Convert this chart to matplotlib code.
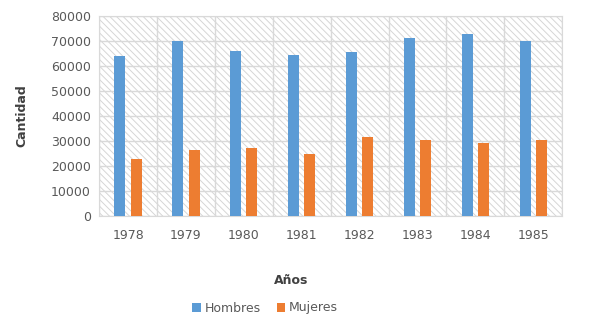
import matplotlib
matplotlib.use("Agg")
import matplotlib.pyplot as plt
import numpy as np
from matplotlib.patches import Rectangle

years = ["1978", "1979", "1980", "1981", "1982", "1983", "1984", "1985"]
hombres = [64000, 69800, 66100, 64500, 65500, 71200, 72600, 69800]
mujeres = [22800, 26400, 27300, 24900, 31500, 30400, 29200, 30400]
yticks = [0, 10000, 20000, 30000, 40000, 50000, 60000, 70000, 80000]

plt.rcParams['font.family'] = ['DejaVu Sans']
plt.rcParams['hatch.linewidth'] = 0.7

fig = plt.figure(figsize=(5.9, 3.25), dpi=100)
ax = fig.add_axes([0.168, 0.335, 0.785, 0.616])

x = np.arange(len(years))
w = 0.19
off = 0.14
blue = '#5b9bd5'
orange = '#ed7d31'

ax.set_xlim(-0.5, len(years) - 0.5)
ax.set_ylim(0, 80000)

# hatched background
ax.add_patch(Rectangle((0, 0), 1, 1, transform=ax.transAxes, facecolor='white',
                       edgecolor='#d6d6d6', linewidth=0, hatch='\\' * 5, zorder=0))

# gridlines
for yv in yticks:
    ax.axhline(yv, color='#d9d9d9', lw=1.0, zorder=1)
for xb in np.arange(-0.5, len(years) + 0.5, 1):
    ax.axvline(xb, color='#d9d9d9', lw=1.0, zorder=1)

ax.bar(x - off, hombres, width=w, color=blue, label='Hombres', zorder=3)
ax.bar(x + off, mujeres, width=w, color=orange, label='Mujeres', zorder=3)

ax.set_xticks(x)
ax.set_xticklabels(years)
ax.set_yticks(yticks)
ax.set_yticklabels([str(v) for v in yticks])
ax.tick_params(axis='both', length=0, colors='#595959', labelsize=9)
ax.tick_params(axis='x', pad=9)
ax.tick_params(axis='y', pad=6)
for s in ax.spines.values():
    s.set_color('#d9d9d9')

fig.text(22 / 590, 1 - 116 / 325, 'Cantidad', rotation=90, ha='center', va='center',
         fontsize=9, fontweight='bold', color='#404040')
fig.text(291 / 590, 1 - 281 / 325, 'Años', ha='center', va='center',
         fontsize=9, fontweight='bold', color='#404040')

leg = fig.legend(loc='center', bbox_to_anchor=(265 / 590, 1 - 308 / 325), ncol=2, frameon=False,
                 fontsize=9, handlelength=0.7, handleheight=0.7, handletextpad=0.3,
                 columnspacing=1.3)
for t in leg.get_texts():
    t.set_color('#595959')

fig.savefig('out.png', dpi=100)
